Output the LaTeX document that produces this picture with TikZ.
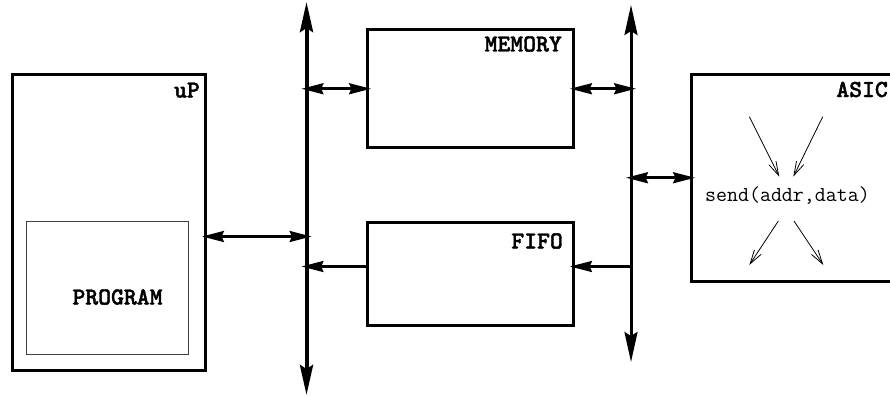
\documentclass[tikz,border=0pt]{standalone}
\usepackage{fontspec}
\newfontfamily\labelfont[FakeBold=1.6]{lmmonolt10-bold.otf}
\usetikzlibrary{arrows.meta}
\begin{document}
\begin{tikzpicture}[x=1pt,y=-1pt,
  block/.style={draw,line width=3pt,inner sep=0pt,anchor=north west},
  inner/.style={draw=black!75,line width=1pt,inner sep=0pt,anchor=north west},
  lbl/.style={font=\fontsize{24.5}{26}\selectfont\labelfont,inner sep=0pt,anchor=base east},
  code/.style={font=\fontsize{21.3}{23}\selectfont\ttfamily,inner sep=0pt,anchor=base west},
  bushead/.tip={Stealth[length=30pt,width=13pt,inset=4pt]},
  linkhead/.tip={Stealth[length=22pt,width=11pt,inset=2.5pt]},
  busline/.style={line width=#1,{bushead}-{bushead}},
  link/.style={line width=2.6pt,shorten <=-5pt,shorten >=-5pt},
  flow/.style={line width=0.8pt,-{Straight Barb[length=14pt,width=8pt]}}]
\useasboundingbox (0,0) rectangle (890,396);
\clip (0,0) rectangle (890,396);

% blocks
\node[block,minimum width=193pt,minimum height=296.5pt] (up) at (11,72.5) {};
\node[inner,minimum width=162pt,minimum height=133pt] (prog) at (26,221) {};
\node[block,minimum width=206pt,minimum height=117.5pt] (mem) at (366,28.5) {};
\node[block,minimum width=206pt,minimum height=103pt] (fifo) at (366,221) {};
\node[block,minimum width=220pt,minimum height=207.5pt] (asic) at (690,72.5) {};

% labels
\node[lbl] (upl) at (200,97.5) {uP};
\node[lbl] (meml) at (562,51.5) {MEMORY};
\node[lbl] (fifol) at (563,248.5) {FIFO};
\node[lbl] (asicl) at (888,97) {ASIC};
\node[lbl,anchor=base] (progl) at (117.5,304.5) {PROGRAM};
\node[code] (send) at (705,201) {send(addr,data)};

% buses
\coordinate (lbt) at (306.5,2);
\coordinate (lbb) at (306.5,395);
\coordinate (rbt) at (631,5);
\coordinate (rbb) at (631,362);
\draw[busline=4pt] (lbt) -- (lbb);
\draw[busline=3pt] (rbt) -- (rbb);

% ports on the blocks
\coordinate (upport) at ([yshift=-14.25pt]up.east);
\coordinate (fifoin) at ([yshift=7.5pt]fifo.east);
\coordinate (fifoout) at ([yshift=7.5pt]fifo.west);

% bus connections
\draw[link,{linkhead}-{linkhead}] (lbt |- mem.west) -- (mem.west);
\draw[link,{linkhead}-{linkhead}] (mem.east) -- (rbt |- mem.east);
\draw[link,{linkhead}-{linkhead}] (upport) -- (lbt |- upport);
\draw[link,shorten <=0pt,-{linkhead}] (fifoout) -- (lbt |- fifoout);
\draw[link,shorten <=0pt,-{linkhead}] (rbt |- fifoin) -- (fifoin);
\draw[link,{linkhead}-{linkhead}] (rbt |- asic.west) -- (asic.west);

% message flow inside the ASIC
\coordinate (f1a) at (749.3,116.7); \coordinate (f1b) at (779.3,176.7);
\coordinate (f2a) at (822.7,116.7); \coordinate (f2b) at (793.3,176.7);
\coordinate (f3a) at (778.3,221);   \coordinate (f3b) at (749.3,265);
\coordinate (f4a) at (794,221);     \coordinate (f4b) at (823.3,265);
\draw[flow] (f1a) -- (f1b);
\draw[flow] (f2a) -- (f2b);
\draw[flow] (f3a) -- (f3b);
\draw[flow] (f4a) -- (f4b);
\end{tikzpicture}
\end{document}
